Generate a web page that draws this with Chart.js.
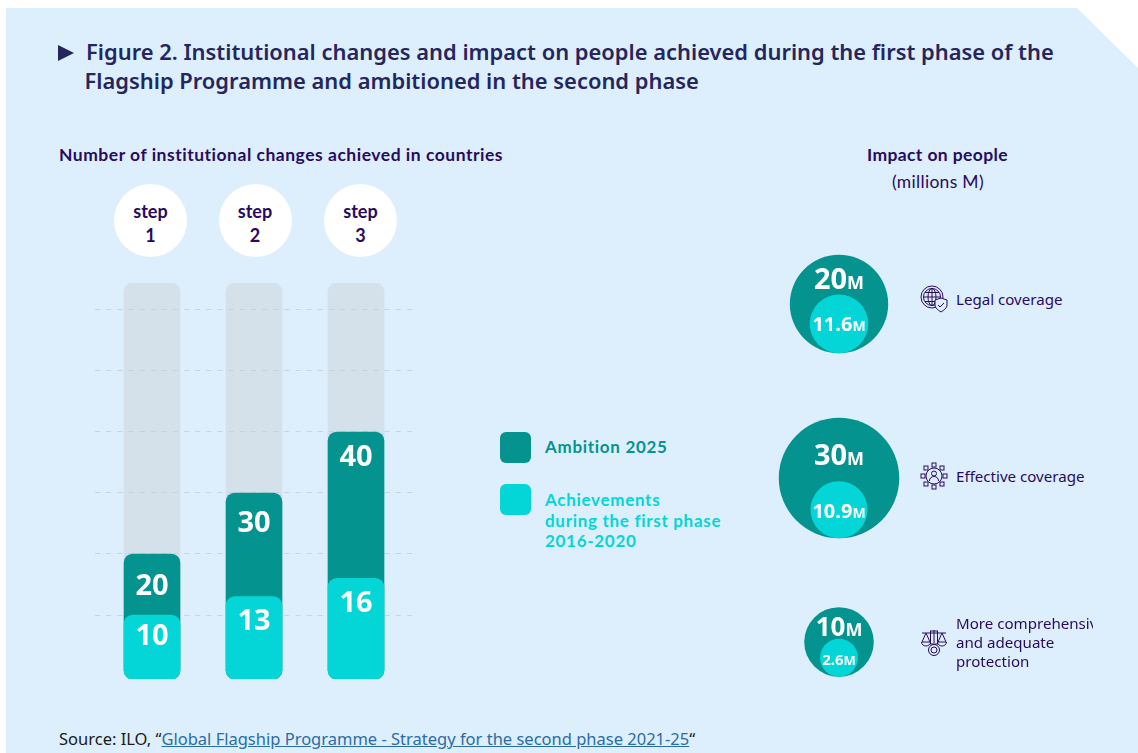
<!DOCTYPE html>
<html>
<head>
<meta charset="utf-8">
<title>Figure 2</title>
<script src="https://cdn.jsdelivr.net/npm/chart.js@4"></script>
<style>
  html, body { margin: 0; padding: 0; background: #fff; }
  body { width: 1138px; height: 753px; overflow: hidden; position: relative; font-family: "Noto Sans", sans-serif; }
  .abs { position: absolute; white-space: nowrap; }
  #panel { left: 6px; top: 8px; width: 1132px; height: 745px; background: #ddeffc;
    clip-path: polygon(0 0, 1071px 0, 1132px 60px, 1132px 745px, 0 745px); }
  #arrow { left: 58px; top: 45px; width: 0; height: 0; border-left: 16px solid #25265e;
    border-top: 8px solid transparent; border-bottom: 8px solid transparent; }
  .title { color: #25265e; font-weight: 600; font-size: 21.9px; line-height: 29px; }
  .sub { color: #2a0a5e; font-family: Lato, sans-serif; font-weight: 700; font-size: 17.5px; line-height: 22px; letter-spacing: 0.51px; }
  .step { left: 0; top: 184px; width: 73px; height: 73px; border-radius: 50%; background: #fff; color: #2a0a5e;
    font-family: Lato, sans-serif; font-weight: 700; font-size: 18px; line-height: 24px; text-align: center;
    display: flex; align-items: center; justify-content: center; }
  .step span { position: relative; top: 2px; }
  #barWrap { left: 95px; top: 283px; width: 317px; height: 396px; }
  .swatch { left: 500px; width: 31px; height: 31px; border-radius: 6px; }
  .legend { left: 545px; font-family: Lato, sans-serif; font-weight: 700; font-size: 17px; line-height: 20.5px; letter-spacing: 0.7px; }
  .row { left: 774px; width: 130px; height: 130px; }
  .row canvas { position: absolute; left: 0; top: 0; }
  .num { position: absolute; left: 0; width: 130px; text-align: center; color: #fff; font-weight: 700; line-height: 1; transform: translateY(-50%); }
  .num small { font-weight: 700; }
  .rowLabel { left: 956px; width: 137px; overflow: hidden; color: #2a0a5e; font-size: 15.1px; line-height: 19.2px; }
  .icon { width: 28px; height: 28px; fill: none; stroke: #2a0a5e; stroke-width: 1; }
  #source { left: 59px; top: 729px; font-size: 16.5px; line-height: 20px; color: #1a1a1a; }
  #source a { color: #2a6ca6; text-decoration: underline; }
</style>
</head>
<body>
<div id="panel" class="abs"></div>
<div id="arrow" class="abs"></div>
<div class="abs title" style="left:86px;top:37px">Figure 2. Institutional changes and impact on people achieved during the first phase of the</div>
<div class="abs title" style="left:84.500px;top:66px">Flagship Programme and ambitioned in the second phase</div>
<div class="abs sub" style="left:59px;top:144px">Number of institutional changes achieved in countries</div>
<div class="abs sub" style="left:867px;top:144px;letter-spacing:0.38px">Impact on people</div>
<div class="abs sub" style="left:892px;top:171px;font-weight:400;letter-spacing:0.3px">(millions M)</div>

<div id="steps"></div>
<div id="barWrap" class="abs"><canvas id="barChart"></canvas></div>
<div id="legend"></div>

<div id="row0" class="abs row" style="top:239px"><canvas id="bubble0"></canvas></div>
<div id="row1" class="abs row" style="top:413px"><canvas id="bubble1"></canvas></div>
<div id="row2" class="abs row" style="top:577px"><canvas id="bubble2"></canvas></div>

<svg class="abs icon" style="left:920px;top:285px" viewBox="0 0 28 28">
  <circle cx="12" cy="12" r="11"/><circle cx="12" cy="12" r="8.5"/><ellipse cx="12" cy="12" rx="4" ry="8.5"/>
  <path d="M3.5 12h17M5 7.5h14M5 16.5h10M12 3.5v17"/>
  <path d="M21 13l6 2v5c0 3-3 5-6 7-3-2-6-4-6-7v-5z" fill="#ddeffc"/><path d="M18 20l2 2 4-4"/>
</svg>
<svg class="abs icon" style="left:920px;top:462px" viewBox="0 0 28 28">
  <circle cx="14" cy="14" r="8"/><circle cx="14" cy="11.5" r="2.5"/><path d="M9.5 19c0-3 2-4.500 4.500-4.500s4.500 1.500 4.500 4.500"/>
  <rect x="12" y="1" width="4" height="4"/><rect x="12" y="23" width="4" height="4"/>
  <rect x="1" y="12" width="4" height="4"/><rect x="23" y="12" width="4" height="4"/>
  <rect x="4" y="4" width="4" height="4"/><rect x="20" y="4" width="4" height="4"/>
  <rect x="4" y="20" width="4" height="4"/><rect x="20" y="20" width="4" height="4"/>
</svg>
<svg class="abs icon" style="left:920px;top:628px" viewBox="0 0 28 28">
  <path d="M2 5h24M14 2v13M6 5l-4 9h8zM22 5l-4 9h8z"/>
  <path d="M1.500 14a4.500 4 0 0 0 9 0M17.500 14a4.500 4 0 0 0 9 0"/>
  <rect x="10.500" y="3" width="7" height="13"/>
  <circle cx="14" cy="22" r="3"/><circle cx="14" cy="22" r="5.500"/>
</svg>
<div class="abs rowLabel" style="top:290px">Legal coverage</div>
<div class="abs rowLabel" style="top:467px">Effective coverage</div>
<div class="abs rowLabel" style="top:614px">More comprehensive<br>and adequate<br>protection</div>

<div id="source" class="abs">Source: ILO, “<a href="#">Global Flagship Programme - Strategy for the second phase 2021-25</a>“</div>

<script>
const categories = ["step 1", "step 2", "step 3"];
const ambition = [20, 30, 40];
const achieved = [10, 13, 16];
const trackTop = [64.4, 64.4, 64.4];
const gridTicks = [10, 20, 30, 40, 50, 60];
const seriesNames = ["Ambition 2025", "Achievements\nduring the first phase\n2016-2020"];

const impactTargets = [20, 30, 10];
const impactAchieved = [11.6, 10.9, 2.6];

const DARK = "#04938f";
const LIGHT = "#04d5d6";
const TRACK = "rgba(200,205,210,0.43)";
const GRID = "#c5d5df";

// step bubbles above the bars
const stepCentres = [150.5, 255, 360.5];
document.getElementById("steps").innerHTML = categories
  .map((c, i) => {
    const [word, n] = c.split(" ");
    return `<div class="abs step" style="left:${stepCentres[i] - 36.5}px"><span>${word}<br>${n}</span></div>`;
  })
  .join("");

// legend
document.getElementById("legend").innerHTML = seriesNames
  .map((name, i) => {
    const color = i === 0 ? DARK : LIGHT;
    const swatchTop = i === 0 ? 432 : 484;
    const textTop = i === 0 ? 437 : 490;
    return `<div class="abs swatch" style="top:${swatchTop}px;background:${color}"></div>
      <div class="abs legend" style="top:${textTop}px;color:${color}">${name.replace(/\n/g, "<br>")}</div>`;
  })
  .join("");

const toPoints = (values) => values.map((v, i) => ({ x: i + 1, y: v }));

// labels sit a little under the top of each bar
const labelOffsets = { 0: [22, 25, 25], 1: [33, 31, 26] };
const barLabels = {
  id: "barLabels",
  afterDatasetsDraw(chart) {
    const { ctx } = chart;
    ctx.save();
    ctx.fillStyle = "#fff";
    ctx.font = '700 29px "Noto Sans"';
    ctx.textAlign = "center";
    ctx.textBaseline = "middle";
    [0, 1].forEach((d) => {
      chart.getDatasetMeta(d).data.forEach((bar, i) => {
        ctx.fillText(chart.data.datasets[d].data[i].y, bar.x, bar.y + labelOffsets[d][i]);
      });
    });
    ctx.restore();
  },
};

const barDataset = (label, values, color) => ({
  label,
  data: toPoints(values),
  backgroundColor: color,
  borderRadius: 9,
  borderSkipped: false,
  borderWidth: 0,
  barThickness: 56,
  grouped: false,
  base: -0.49,
});

new Chart(document.getElementById("barChart"), {
  type: "bar",
  data: {
    datasets: [
      barDataset("Achievements", achieved, LIGHT),
      barDataset("Ambition 2025", ambition, DARK),
      barDataset("Track", trackTop, TRACK),
    ],
  },
  options: {
    responsive: true,
    maintainAspectRatio: false,
    animation: false,
    layout: { padding: 0 },
    plugins: { legend: { display: false }, tooltip: { enabled: false } },
    scales: {
      x: { type: "linear", offset: false, min: 0.441, max: 3.549, display: false },
      y: {
        min: -0.49,
        max: 64.42,
        afterBuildTicks: (axis) => {
          axis.ticks = gridTicks.map((value) => ({ value }));
        },
        border: { display: false, dash: [5, 6.14] },
        ticks: { display: false },
        grid: { color: GRID, lineWidth: 1, drawTicks: false, tickLength: 0 },
      },
    },
  },
  plugins: [barLabels],
});

// nested circles, one small chart per row
const outerRadius = (v) => 11 * Math.sqrt(v);
const innerRadius = (v) => 16 + 1.15 * v;

function drawImpactRow(i) {
  const R = outerRadius(impactTargets[i]);
  const r = innerRadius(impactAchieved[i]);
  new Chart(document.getElementById(`bubble${i}`), {
    type: "bubble",
    data: {
      datasets: [
        { data: [{ x: 0, y: R - r, r }], backgroundColor: LIGHT, borderWidth: 0, clip: false },
        { data: [{ x: 0, y: 0, r: R }], backgroundColor: DARK, borderWidth: 0, clip: false },
      ],
    },
    options: {
      responsive: true,
      maintainAspectRatio: false,
      animation: false,
      layout: { padding: 0, autoPadding: false },
      plugins: { legend: { display: false }, tooltip: { enabled: false } },
      scales: {
        x: { min: -65, max: 65, display: false },
        y: { min: -65, max: 65, reverse: true, display: false },
      },
    },
  });
}

const numStyles = [
  { big: [38, 29, 18], small: [85, 20, 14] },
  { big: [40, 29, 18], small: [98, 20, 14] },
  { big: [49, 26, 18], small: [82, 15, 13] },
];

impactTargets.forEach((v, i) => {
  drawImpactRow(i);
  const s = numStyles[i];
  const row = document.getElementById(`row${i}`);
  row.insertAdjacentHTML(
    "beforeend",
    `<div class="num" style="top:${s.big[0]}px;font-size:${s.big[1]}px">${v}<small style="font-size:${s.big[2]}px">M</small></div>
     <div class="num" style="top:${s.small[0]}px;font-size:${s.small[1]}px">${impactAchieved[i]}<small style="font-size:${s.small[2]}px">M</small></div>`
  );
});
</script>
</body>
</html>
